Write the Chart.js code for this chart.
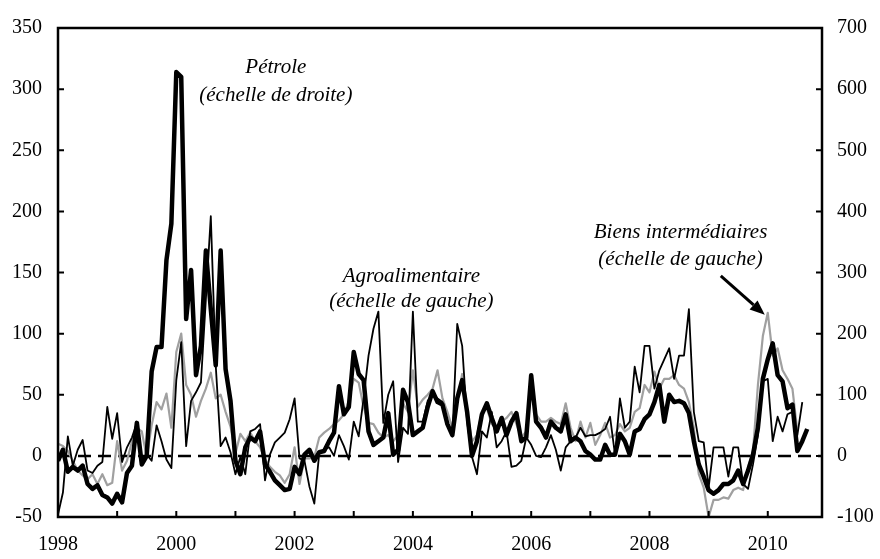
<!DOCTYPE html>
<html>
<head>
<meta charset="utf-8">
<script src="https://cdn.jsdelivr.net/npm/chart.js@4.4.1/dist/chart.umd.min.js"></script>
<style>
  html, body { margin: 0; padding: 0; background: #fff; }
  #wrap { width: 880px; height: 559px; }
</style>
</head>
<body>
<div id="wrap"><canvas id="chart" width="880" height="559"></canvas></div>
<script>
// Monthly series, Jan 1998 = month 0. One line per year.
var START_YEAR = 1998;
var X_MAX = 155;

// Pétrole, right-hand scale
var petrole = [
  -8, 10, -26, -18, -24, -16, -46, -54, -48, -64, -68, -78,
  -62, -76, -28, -16, 54, -14, 0, 138, 178, 178, 320, 380,
  628, 620, 224, 304, 132, 180, 336, 240, 148, 336, 142, 90,
  -8, -30, 14, 30, 24, 40, -14, -26, -40, -48, -56, -54,
  -18, -30, 2, 10, -8, 6, 8, 24, 38, 114, 68, 80,
  170, 134, 124, 40, 18, 24, 30, 70, 2, 10, 108, 88,
  34, 40, 46, 80, 106, 88, 84, 52, 34, 94, 124, 72,
  0, 24, 68, 86, 62, 40, 62, 34, 56, 70, 24, 30,
  132, 56, 46, 30, 56, 46, 40, 68, 24, 30, 24, 8,
  2, -6, -6, 18, 2, 2, 36, 24, 2, 40, 44, 60,
  68, 88, 116, 56, 100, 88, 90, 86, 70, 24, -14, -34,
  -56, -62, -56, -46, -46, -40, -24, -46, -24, 2, 46, 126,
  158, 184, 132, 122, 78, 84, 8, 24, 44
];

// Agroalimentaire, left-hand scale
var agro = [
  -48, -30, 16, -8, 5, 13, -12, -14, -8, -5, 40, 14,
  35, -5, 7, 15, 27, -4, 1, -4, 25, 12, -3, -10,
  62, 93, 8, 45, 52, 60, 128, 196, 74, 8, 15, 3,
  -15, -1, -15, 20, 22, 26, -20, 1, 11, 15, 19, 30,
  47, -2, -4, -25, -39, 2, 5, 7, 0, 17, 8, -3,
  28, 16, 47, 82, 104, 118, 27, 50, 61, -5, 23, 18,
  118, 28, 28, 45, 50, 47, 44, 28, 16, 108, 90, 28,
  -1, -15, 20, 15, 36, 7, 12, 20, -9, -8, -4, 15,
  9, 0, -1, 7, 17, 5, -12, 7, 12, 15, 23, 16,
  17, 17, 19, 22, 32, 1, 47, 23, 28, 73, 52, 90,
  90, 55, 70, 79, 88, 63, 82, 82, 120, 36, 12, 11,
  -26, 7, 7, 7, -17, 7, 7, -23, -27, -7, 17, 61,
  63, 12, 32, 20, 34, 36, 17, 44
];

// Biens intermédiaires, left-hand scale
var biens = [
  10, 8, 4, -4, -12, -16, -19, -15, -23, -15, -24, -22,
  12, -12, -4, 12, 23, 20, -1, 25, 44, 38, 51, 23,
  85, 100, 58, 50, 32, 45, 55, 68, 47, 50, 36, 24,
  2, 18, 12, 19, 12, 7, -3, -9, -13, -16, -22, -15,
  7, -23, -2, -2, -1, 15, 19, 22, 26, 29, 34, 45,
  63, 60, 40, 27, 26, 19, 15, 17, 12, 17, 43, 36,
  70, 40, 46, 50, 55, 70, 47, 36, 23, 44, 67, 36,
  12, 17, 36, 39, 26, 23, 28, 31, 36, 26, 15, 20,
  52, 34, 28, 28, 31, 28, 26, 43, 23, 12, 28, 15,
  27, 9, 17, 27, 15, 17, 26, 20, 23, 36, 39, 58,
  52, 69, 55, 63, 63, 66, 58, 55, 44, 23, -15, -26,
  -50, -36, -36, -34, -35, -28, -26, -28, -9, 4, 58, 98,
  117, 82, 88, 70, 63, 55, 20
];

var leftTicks  = { min: -50,  max: 350, step: 50 };
var rightTicks = { min: -100, max: 700, step: 100 };

// Labels anchored in data units: [month, left-scale value, text]
var notes = [
  [44.2, 318, 'Pétrole'],
  [44.2, 295, '(échelle de droite)'],
  [71.7, 147, 'Agroalimentaire'],
  [71.7, 126, '(échelle de gauche)'],
  [126.3, 183, 'Biens intermédiaires'],
  [126.3, 161, '(échelle de gauche)']
];
var arrowTarget = [144, 117];   // points at the Biens intermédiaires peak

var SERIF = '"Liberation Serif", "Times New Roman", serif';

function toPoints(arr) {
  return arr.map(function (v, i) { return { x: i, y: v }; });
}

var framePlugin = {
  id: 'frame',
  afterDatasetsDraw: function (chart) {
    var ctx = chart.ctx, a = chart.chartArea;
    var sx = chart.scales.x, sl = chart.scales.y, sr = chart.scales.y2;
    ctx.save();
    ctx.strokeStyle = '#000';
    ctx.lineWidth = 2;
    ctx.beginPath();
    sx.ticks.forEach(function (t) {
      var px = sx.getPixelForValue(t.value);
      ctx.moveTo(px, a.bottom); ctx.lineTo(px, a.bottom - 6);
    });
    sl.ticks.forEach(function (t) {
      var py = sl.getPixelForValue(t.value);
      ctx.moveTo(a.left, py); ctx.lineTo(a.left + 6, py);
    });
    sr.ticks.forEach(function (t) {
      var py = sr.getPixelForValue(t.value);
      ctx.moveTo(a.right, py); ctx.lineTo(a.right - 6, py);
    });
    ctx.stroke();
    ctx.lineWidth = 2.5;
    ctx.strokeRect(a.left, a.top, a.right - a.left, a.bottom - a.top);
    ctx.restore();
  }
};

var notesPlugin = {
  id: 'notes',
  afterDraw: function (chart) {
    var ctx = chart.ctx;
    var sx = chart.scales.x, sl = chart.scales.y;
    ctx.save();
    ctx.fillStyle = '#000';
    ctx.font = 'italic 21px ' + SERIF;
    ctx.textAlign = 'center';
    ctx.textBaseline = 'middle';
    notes.forEach(function (n) {
      ctx.fillText(n[2], sx.getPixelForValue(n[0]), sl.getPixelForValue(n[1]));
    });

    // arrow towards the peak
    var tx = sx.getPixelForValue(arrowTarget[0]) - 3;
    var ty = sl.getPixelForValue(arrowTarget[1]) + 2;
    var fx = tx - 44, fy = ty - 39;
    var ang = Math.atan2(ty - fy, tx - fx);
    var head = 15, half = 6;
    var bx = tx - head * Math.cos(ang), by = ty - head * Math.sin(ang);
    ctx.strokeStyle = '#000';
    ctx.lineWidth = 3;
    ctx.beginPath();
    ctx.moveTo(fx, fy);
    ctx.lineTo(bx, by);
    ctx.stroke();
    ctx.beginPath();
    ctx.moveTo(tx, ty);
    ctx.lineTo(bx + half * Math.sin(ang), by - half * Math.cos(ang));
    ctx.lineTo(bx - half * Math.sin(ang), by + half * Math.cos(ang));
    ctx.closePath();
    ctx.fill();
    ctx.restore();
  }
};

function tickFont() { return { family: SERIF, size: 20 }; }

new Chart(document.getElementById('chart'), {
  type: 'line',
  data: {
    datasets: [
      {
        label: 'Pétrole',
        data: toPoints(petrole),
        yAxisID: 'y2',
        borderColor: '#000',
        borderWidth: 4.5,
        pointRadius: 0,
        tension: 0,
        borderJoinStyle: 'round',
        order: 0,
      },
      {
        label: 'Agroalimentaire',
        data: toPoints(agro),
        yAxisID: 'y',
        borderColor: '#000',
        borderWidth: 1.8,
        pointRadius: 0,
        tension: 0,
        borderJoinStyle: 'round',
        order: 1,
      },
      {
        label: 'Biens intermédiaires',
        data: toPoints(biens),
        yAxisID: 'y',
        borderColor: '#a0a0a0',
        borderWidth: 2.2,
        pointRadius: 0,
        tension: 0,
        borderJoinStyle: 'round',
        order: 2,
      },
      {
        label: 'zero',
        data: [{ x: 0, y: 0 }, { x: X_MAX, y: 0 }],
        yAxisID: 'y',
        borderColor: '#000',
        borderWidth: 2.5,
        borderDash: [13, 7],
        pointRadius: 0,
        order: 3,
      },
    ],
  },
  options: {
    responsive: false,
    animation: false,
    devicePixelRatio: 1,
    layout: { padding: { top: 21, left: 0, right: 0, bottom: 0 } },
    plugins: { legend: { display: false }, tooltip: { enabled: false } },
    scales: {
      x: {
        type: 'linear',
        min: 0,
        max: X_MAX,
        grid: { display: false, drawTicks: false },
        border: { display: false },
        afterBuildTicks: function (s) {
          s.ticks = s.ticks.filter(function (t) { return t.value % 12 === 0; });
        },
        afterFit: function (s) { s.height = 42; },
        ticks: {
          stepSize: 12,
          autoSkip: false,
          maxRotation: 0,
          padding: 16,
          color: '#000',
          font: tickFont(),
          callback: function (v) { return v % 24 === 0 ? String(START_YEAR + v / 12) : ''; },
        },
      },
      y: {
        position: 'left',
        min: leftTicks.min,
        max: leftTicks.max,
        grid: { display: false, drawTicks: false },
        border: { display: false },
        afterFit: function (s) { s.width = 58; },
        ticks: { stepSize: leftTicks.step, padding: 16, color: '#000', font: tickFont() },
      },
      y2: {
        position: 'right',
        min: rightTicks.min,
        max: rightTicks.max,
        grid: { display: false, drawTicks: false },
        border: { display: false },
        afterFit: function (s) { s.width = 58; },
        ticks: { stepSize: rightTicks.step, padding: 15, color: '#000', font: tickFont() },
      },
    },
  },
  plugins: [framePlugin, notesPlugin],
});
</script>
</body>
</html>
